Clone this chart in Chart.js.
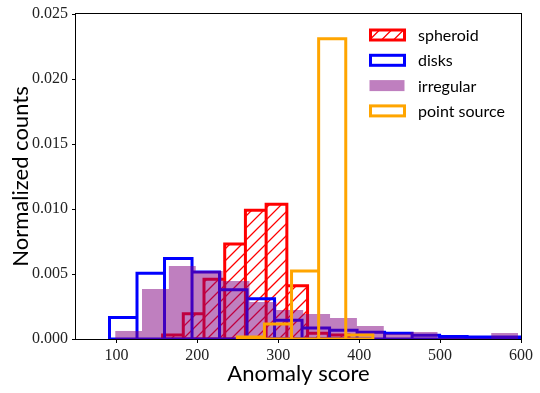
<!DOCTYPE html>
<html>
<head>
<meta charset="utf-8">
<script src="https://cdn.jsdelivr.net/npm/chart.js@4/dist/chart.umd.min.js"></script>
<style>
  html, body { margin: 0; padding: 0; background: #fff; }
</style>
</head>
<body>
<canvas id="histChart" width="540" height="393"></canvas>
<script>
// tick values
const xTicks = [100, 200, 300, 400, 500, 600];
const yTicks = [0, 0.005, 0.01, 0.015, 0.02, 0.025];

// histogram bin edges and normalized counts
const spheroidEdges = [157, 182.6, 208.2, 233.8, 259.4, 285, 310.6, 336.2, 361.8, 387.4];
const spheroidCounts = [0.0003, 0.00195, 0.0046, 0.0073, 0.0099, 0.01036, 0.0041, 0.00044, 0.0003];

const disksEdges = [91.4, 125.4, 159.4, 193.4, 227.4, 261.4, 295.4, 329.4, 363.4, 397.4, 431.4, 465.4, 499.4, 533.4, 567.4, 601.4];
const disksCounts = [0.00165, 0.00505, 0.0062, 0.00515, 0.00378, 0.0031, 0.00145, 0.00085, 0.00067, 0.00052, 0.00045, 0.00028, 0.0002, 0.00015, 0.00015];

const irregularEdges = [98.4, 131.6, 164.8, 198, 231.2, 264.4, 297.6, 330.8, 364, 397.2, 430.4, 463.6, 496.8, 530, 563.2, 596.4];
const irregularCounts = [0.00062, 0.00385, 0.00562, 0.00523, 0.00446, 0.00285, 0.00223, 0.00192, 0.00162, 0.001, 0.0004, 0.00054, 0.0001, 0.00005, 0.00046];

const pointEdges = [249.4, 282.9, 316.4, 349.9, 383.4, 416.9];
const pointCounts = [0.00015, 0.00115, 0.00523, 0.0231, 0.0003];

const HATCH_STEP = 12;

// turn edges + counts into the outline of matplotlib-style bars
function barOutline(edges, counts) {
    const pts = [];
    counts.forEach((c, i) => {
        pts.push({ x: edges[i], y: 0 });
        pts.push({ x: edges[i], y: c });
        pts.push({ x: edges[i + 1], y: c });
        pts.push({ x: edges[i + 1], y: 0 });
    });
    return pts;
}

// bottom edge of the bars
function baseLine(edges) {
    return [{ x: edges[0], y: 0 }, { x: edges[edges.length - 1], y: 0 }];
}

// "/" lines across a box, caller sets the clip
function strokeHatch(ctx, left, top, right, bottom, color) {
    const h = bottom - top;
    ctx.strokeStyle = color;
    ctx.lineWidth = 1.3;
    ctx.beginPath();
    for (let k = left - h; k < right + HATCH_STEP; k += HATCH_STEP) {
        ctx.moveTo(k, bottom);
        ctx.lineTo(k + h, top);
    }
    ctx.stroke();
}

const common = {
    type: "line",
    pointRadius: 0,
    pointHoverRadius: 0,
    tension: 0,
    clip: 0,
    borderJoinStyle: "miter",
    fill: false
};

const datasets = [
    Object.assign({}, common, {
        label: "spheroid",
        data: barOutline(spheroidEdges, spheroidCounts),
        borderColor: "#ff0000",
        backgroundColor: "#ff0000",
        borderWidth: 3,
        hatch: "rgb(255, 0, 0)",
        order: 4
    }),
    Object.assign({}, common, {
        label: "disks",
        data: barOutline(disksEdges, disksCounts),
        borderColor: "#0000ff",
        backgroundColor: "transparent",
        borderWidth: 3,
        order: 3
    }),
    Object.assign({}, common, {
        label: "irregular",
        data: barOutline(irregularEdges, irregularCounts),
        borderColor: "transparent",
        borderWidth: 0,
        backgroundColor: "rgba(128, 0, 128, 0.5)",
        fill: "origin",
        order: 2
    }),
    Object.assign({}, common, {
        label: "point source",
        data: barOutline(pointEdges, pointCounts),
        borderColor: "#ffa500",
        backgroundColor: "transparent",
        borderWidth: 3,
        order: 1
    }),
    // bottom edges, no legend entry
    Object.assign({}, common, { data: baseLine(spheroidEdges), borderColor: "#ff0000", borderWidth: 3, order: 4 }),
    Object.assign({}, common, { data: baseLine(disksEdges), borderColor: "#0000ff", borderWidth: 3, order: 3 }),
    Object.assign({}, common, { data: baseLine(pointEdges), borderColor: "#ffa500", borderWidth: 3, order: 1 })
];

// hatch inside the spheroid bars, right after that dataset is drawn
const hatchFill = {
    id: "hatchFill",
    afterDatasetDraw(chart, args) {
        const ds = chart.data.datasets[args.index];
        if (!ds.hatch) return;
        const pts = args.meta.data;
        const a = chart.chartArea;
        const ctx = chart.ctx;
        ctx.save();
        ctx.beginPath();
        ctx.rect(a.left, a.top, a.right - a.left, a.bottom - a.top);
        ctx.clip();
        ctx.beginPath();
        pts.forEach((p, i) => (i ? ctx.lineTo(p.x, p.y) : ctx.moveTo(p.x, p.y)));
        ctx.closePath();
        ctx.clip();
        strokeHatch(ctx, a.left, a.top, a.right, a.bottom, ds.hatch);
        ctx.restore();
    }
};

// legend drawn inside the axes, like matplotlib's upper right legend
const histLegend = {
    id: "histLegend",
    afterDatasetsDraw(chart) {
        const ctx = chart.ctx;
        const area = chart.chartArea;
        ctx.save();
        ctx.font = "16px Lato";
        ctx.textBaseline = "middle";
        ctx.textAlign = "left";
        let row = 0;
        chart.data.datasets.forEach(ds => {
            if (!ds.label) return;
            const x = area.right - 152;
            const y = area.top + 21 + row * 25.3;
            if (ds.borderWidth > 0) {
                if (ds.hatch) {
                    ctx.save();
                    ctx.beginPath();
                    ctx.rect(x + 1.5, y - 5, 34, 10);
                    ctx.clip();
                    strokeHatch(ctx, x, y - 6.5, x + 37, y + 6.5, ds.hatch);
                    ctx.restore();
                }
                ctx.strokeStyle = ds.borderColor;
                ctx.lineWidth = 3;
                ctx.lineJoin = "miter";
                ctx.strokeRect(x + 1.5, y - 5, 34, 10);
            } else {
                ctx.fillStyle = ds.backgroundColor;
                ctx.fillRect(x + 0.5, y - 5.5, 35, 11);
            }
            ctx.fillStyle = "#000";
            ctx.fillText(ds.label, x + 49, y + 1);
            row++;
        });
        ctx.restore();
    }
};

// full box around the axes
const axesFrame = {
    id: "axesFrame",
    afterDatasetsDraw(chart) {
        const ctx = chart.ctx;
        const a = chart.chartArea;
        ctx.save();
        ctx.strokeStyle = "#000";
        ctx.lineWidth = 1;
        ctx.strokeRect(Math.round(a.left) - 0.5, Math.round(a.top) - 0.5, Math.round(a.right - a.left) + 1, Math.round(a.bottom - a.top) + 1);
        ctx.restore();
    }
};

const tickFont = { family: "'Liberation Serif', serif", size: 16 };

new Chart(document.getElementById("histChart").getContext("2d"), {
    type: "line",
    data: { datasets: datasets },
    options: {
        responsive: false,
        animation: false,
        events: [],
        layout: { padding: { top: 14, right: 19, left: 0, bottom: 0 } },
        plugins: {
            legend: { display: false },
            tooltip: { enabled: false }
        },
        scales: {
            x: {
                type: "linear",
                min: 50,
                max: 600,
                afterBuildTicks: s => { s.ticks = xTicks.map(v => ({ value: v })); },
                afterFit: s => { s.height = 54; },
                grid: { display: true, drawOnChartArea: false, drawTicks: true, tickLength: 4, color: "#000", tickColor: "#000" },
                border: { display: false },
                ticks: { color: "#222", font: tickFont, padding: 3, maxRotation: 0, callback: v => String(v) },
                title: { display: true, text: "Anomaly score", color: "#000", font: { family: "Lato", size: 22 }, padding: { top: 0, bottom: 6 } }
            },
            y: {
                type: "linear",
                min: 0,
                max: 0.025,
                afterBuildTicks: s => { s.ticks = yTicks.map(v => ({ value: v })); },
                afterFit: s => { s.width = 76; },
                grid: { display: true, drawOnChartArea: false, drawTicks: true, tickLength: 4, color: "#000", tickColor: "#000" },
                border: { display: false },
                ticks: { color: "#222", font: tickFont, padding: 4, callback: v => v.toFixed(3) },
                title: { display: true, text: "Normalized counts", color: "#000", font: { family: "Lato", size: 22 }, padding: { top: 8, bottom: 0 } }
            }
        }
    },
    plugins: [hatchFill, histLegend, axesFrame]
});
</script>
</body>
</html>
